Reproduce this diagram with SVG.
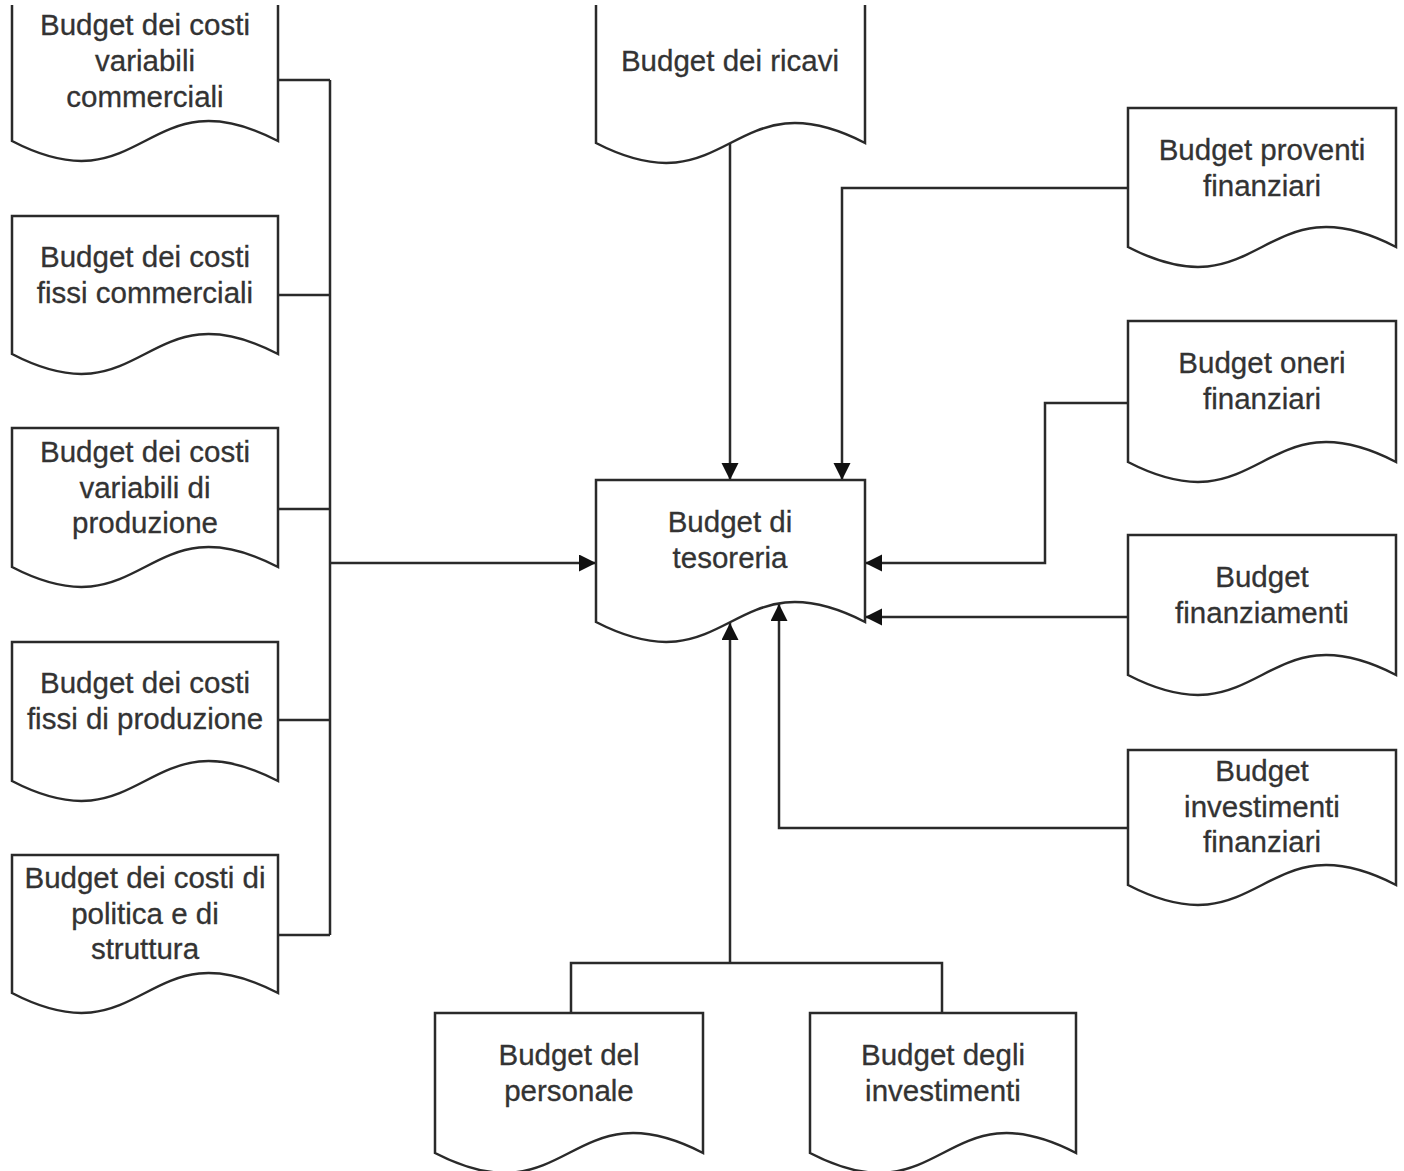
<svg xmlns="http://www.w3.org/2000/svg" width="1404" height="1171" viewBox="0 0 1404 1171">
<defs>
<marker id="arr" markerUnits="userSpaceOnUse" markerWidth="18" markerHeight="18" refX="17" refY="8.5" orient="auto">
<path d="M0,0 L17,8.5 L0,17 z" fill="#111"/>
</marker>
<style>
.doc{fill:#fff;stroke:#2a2a2a;stroke-width:2.5;stroke-linejoin:miter}
.lbl{font-family:"Liberation Sans",Arial,sans-serif;font-size:29.5px;fill:#333;text-anchor:middle;stroke:#333;stroke-width:0.3}
.con{fill:none;stroke:#2a2a2a;stroke-width:2.5}
</style>
</defs>
<rect width="1404" height="1171" fill="#fff"/>

<g id="connectors">
<path class="con" d="M278,80 H330 M278,295 H330 M278,509 H330 M278,720 H330 M278,935 H330 M330,80 V935"/>
<path class="con" d="M330,563 H596" marker-end="url(#arr)"/>
<path class="con" d="M730,143 V480" marker-end="url(#arr)"/>
<path class="con" d="M1128,188 H842 V480" marker-end="url(#arr)"/>
<path class="con" d="M1128,403 H1045 V563 H865" marker-end="url(#arr)"/>
<path class="con" d="M1128,617 H865" marker-end="url(#arr)"/>
<path class="con" d="M1128,828 H779 V604" marker-end="url(#arr)"/>
<path class="con" d="M571,1013 V963 H942 V1013"/>
<path class="con" d="M730,963 V623" marker-end="url(#arr)"/>
</g>

<g id="costi-variabili-commerciali">
<path class="doc" d="M12,5 V141 C145,210 145,72 278,141 V5"/>
<text class="lbl" x="145" y="35">Budget dei costi<tspan x="145" dy="36">variabili</tspan><tspan x="145" dy="36">commerciali</tspan></text>
</g>
<g id="costi-fissi-commerciali">
<path class="doc" d="M12,216 V354 C145,423 145,285 278,354 V216 Z"/>
<text class="lbl" x="145" y="267">Budget dei costi<tspan x="145" dy="36">fissi commerciali</tspan></text>
</g>
<g id="costi-variabili-produzione">
<path class="doc" d="M12,428 V567 C145,636 145,498 278,567 V428 Z"/>
<text class="lbl" x="145" y="462">Budget dei costi<tspan x="145" dy="35.5">variabili di</tspan><tspan x="145" dy="35.5">produzione</tspan></text>
</g>
<g id="costi-fissi-produzione">
<path class="doc" d="M12,642 V781 C145,850 145,712 278,781 V642 Z"/>
<text class="lbl" x="145" y="693">Budget dei costi<tspan x="145" dy="35.5">fissi di produzione</tspan></text>
</g>
<g id="costi-politica-struttura">
<path class="doc" d="M12,855 V993 C145,1062 145,924 278,993 V855 Z"/>
<text class="lbl" x="145" y="888">Budget dei costi di<tspan x="145" dy="35.5">politica e di</tspan><tspan x="145" dy="35.5">struttura</tspan></text>
</g>

<g id="ricavi">
<path class="doc" d="M596,5 V143 C730.5,212 730.5,74 865,143 V5"/>
<text class="lbl" x="730" y="71">Budget dei ricavi</text>
</g>
<g id="tesoreria">
<path class="doc" d="M596,480 V622 C730.5,691 730.5,553 865,622 V480 Z"/>
<text class="lbl" x="730" y="532">Budget di<tspan x="730" dy="36">tesoreria</tspan></text>
</g>

<g id="proventi-finanziari">
<path class="doc" d="M1128,108 V247 C1262,316 1262,178 1396,247 V108 Z"/>
<text class="lbl" x="1262" y="160">Budget proventi<tspan x="1262" dy="35.5">finanziari</tspan></text>
</g>
<g id="oneri-finanziari">
<path class="doc" d="M1128,321 V462 C1262,531 1262,393 1396,462 V321 Z"/>
<text class="lbl" x="1262" y="373">Budget oneri<tspan x="1262" dy="35.5">finanziari</tspan></text>
</g>
<g id="finanziamenti">
<path class="doc" d="M1128,535 V675 C1262,744 1262,606 1396,675 V535 Z"/>
<text class="lbl" x="1262" y="587">Budget<tspan x="1262" dy="35.5">finanziamenti</tspan></text>
</g>
<g id="investimenti-finanziari">
<path class="doc" d="M1128,750 V885 C1262,954 1262,816 1396,885 V750 Z"/>
<text class="lbl" x="1262" y="781">Budget<tspan x="1262" dy="35.5">investimenti</tspan><tspan x="1262" dy="35.5">finanziari</tspan></text>
</g>

<g id="personale">
<path class="doc" d="M435,1013 V1153 C569,1222 569,1084 703,1153 V1013 Z"/>
<text class="lbl" x="569" y="1065">Budget del<tspan x="569" dy="36">personale</tspan></text>
</g>
<g id="investimenti">
<path class="doc" d="M810,1013 V1153 C943,1222 943,1084 1076,1153 V1013 Z"/>
<text class="lbl" x="943" y="1065">Budget degli<tspan x="943" dy="36">investimenti</tspan></text>
</g>
</svg>
